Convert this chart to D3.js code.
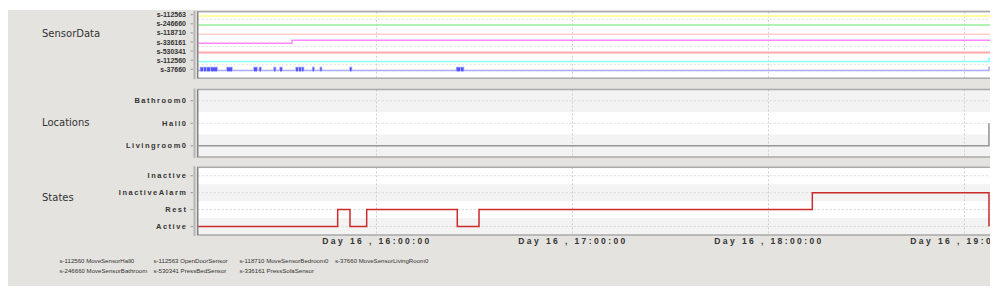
<!DOCTYPE html>
<html>
<head>
    <title>Sensor timeline</title>
    <script src="https://d3js.org/d3.v7.min.js"></script>
    <style>
        body { margin: 0; background: #fff; }
        svg { display: block; }
        .cat { font-family: "Liberation Sans", Arial, sans-serif; font-weight: bold; fill: #333; }
        .title { font-family: "DejaVu Sans", sans-serif; font-size: 10px; fill: #333; }
    </style>
</head>
<body>
    <div id="chart"></div>
    <script>
        // ---- data ----
        let sensorIds = ["s-112563", "s-246660", "s-118710", "s-336161", "s-530341", "s-112560", "s-37660"];
        let sensorColors = ["#ffff80", "#99ee99", "#ffcccc", "#ff88ff", "#ffaaaa", "#88ffff", "#aaaaff"];

        // each sensor: [time, value] changes
        let s112563 = [["15:05:25", 0], ["19:10:00", 0]];
        let s246660 = [["15:05:25", 0], ["19:10:00", 0]];
        let s118710 = [["15:05:25", 0], ["19:10:00", 0]];
        let s336161 = [["15:05:25", 0], ["15:34:17", 1], ["19:10:00", 1]];
        let s530341 = [["15:05:25", 0], ["19:10:00", 0]];
        let s112560 = [["15:05:25", 0], ["19:07:38", 1], ["19:10:00", 1]];
        let s37660 = [["15:05:25", 0],
            ["15:06:17", 1], ["15:07:02", 0], ["15:07:21", 1], ["15:07:58", 0],
            ["15:08:16", 1], ["15:09:11", 0], ["15:09:29", 1], ["15:11:20", 0],
            ["15:14:23", 1], ["15:15:55", 0], ["15:22:39", 1], ["15:23:34", 0],
            ["15:24:20", 1], ["15:24:48", 0], ["15:28:47", 1], ["15:29:14", 0],
            ["15:30:37", 1], ["15:31:13", 0], ["15:35:31", 1], ["15:36:07", 0],
            ["15:36:26", 1], ["15:37:02", 0], ["15:37:21", 1], ["15:37:48", 0],
            ["15:40:37", 1], ["15:41:01", 0], ["15:42:57", 1], ["15:43:19", 0],
            ["15:52:02", 1], ["15:52:30", 0], ["16:24:42", 1], ["16:25:43", 0],
            ["16:26:01", 1], ["16:26:47", 0], ["19:07:38", 1], ["19:10:00", 1]];
        let sensorSeries = [s112563, s246660, s118710, s336161, s530341, s112560, s37660];

        let locationCats = ["Bathroom0", "Hall0", "Livingroom0"];
        let locationData = [["15:05:25", "Livingroom0"], ["19:07:38", "Hall0"]];

        let stateCats = ["Inactive", "InactiveAlarm", "Rest", "Active"];
        let stateData = [["15:05:25", "Active"], ["15:48:16", "Rest"], ["15:52:02", "Active"],
            ["15:57:09", "Rest"], ["16:24:53", "Active"], ["16:31:32", "Rest"],
            ["18:13:34", "InactiveAlarm"], ["19:07:39", "Active"]];

        let hourTicks = ["16:00:00", "17:00:00", "18:00:00", "19:00:00"];
        let timeStart = "15:05:25", timeEnd = "19:10:00";

        let legendRows = [
            ["s-112560 MoveSensorHall0", "s-112563 OpenDoorSensor", "s-118710 MoveSensorBedroom0", "s-37660 MoveSensorLivingRoom0"],
            ["s-246660 MoveSensorBathroom", "s-530341 PressBedSensor", "s-336161 PressSofaSensor"]
        ];

        // ---- layout ----
        let width = 1000, height = 294;
        let parse = d3.timeParse("%H:%M:%S");
        let left = 197.7;

        let svg = d3.select("#chart").append("svg").attr("width", width).attr("height", height);
        svg.append("clipPath").attr("id", "clip").append("rect").attr("width", 990).attr("height", height);
        let root = svg.append("g").attr("clip-path", "url(#clip)");

        root.append("rect").attr("x", 8).attr("y", 10).attr("width", 990).attr("height", 276).attr("fill", "#e5e3df");

        let x = d3.scaleTime().domain([parse(timeStart), parse(timeEnd)]).range([left, left + 4.0764 * 196]);

        function panel(top, bottom, title, titleY) {
            let g = root.append("g");
            g.append("rect").attr("x", left).attr("y", top).attr("width", 820).attr("height", bottom - top)
                .attr("fill", "#fff");
            root.append("text").attr("class", "title").attr("x", 42).attr("y", titleY).text(title);
            return g;
        }

        function frame(g, top, bottom) {
            g.selectAll(".vgrid").data(hourTicks).enter().append("line")
                .attr("x1", d => x(parse(d)) + 0.5).attr("x2", d => x(parse(d)) + 0.5)
                .attr("y1", top).attr("y2", bottom)
                .attr("stroke", "#cfcfcf").attr("stroke-dasharray", "2,2");
        }

        function border(g, top, bottom) {
            g.append("rect").attr("x", left).attr("y", top).attr("width", 820).attr("height", bottom - top)
                .attr("fill", "none").attr("stroke", "#a9a9a9").attr("stroke-width", 1.5);
            g.append("line").attr("x1", left).attr("x2", left).attr("y1", top).attr("y2", bottom)
                .attr("stroke", "#777").attr("stroke-width", 1);
            g.append("line").attr("x1", 194.5).attr("x2", 194.5).attr("y1", top - 1).attr("y2", bottom + 1)
                .attr("stroke", "#b5b5b5").attr("stroke-width", 2);
        }

        function catAxis(g, cats, yc, size, spacing) {
            g.selectAll(".tk").data(cats).enter().append("line")
                .attr("x1", 190.5).attr("x2", 193).attr("y1", d => yc(d)).attr("y2", d => yc(d))
                .attr("stroke", "#999");
            g.selectAll(".lb").data(cats).enter().append("text")
                .attr("class", "cat").attr("text-anchor", "end")
                .attr("x", 186 + spacing).attr("y", d => yc(d) + size * 0.36)
                .style("font-size", size + "px").style("letter-spacing", spacing + "px")
                .text(d => d);
        }

        // ---- SensorData ----
        let sTop = 11.7, sBottom = 78.2;
        let gS = panel(sTop, sBottom, "SensorData", 36.5);
        let yS = d3.scalePoint().domain(sensorIds).range([14.7, 69.3]);
        let lane = d3.scaleLinear().domain([0, 1]).range([1.3, -1.8]);
        frame(gS, sTop, sBottom);
        [[0, 1], [3, 4], [5, 6]].forEach(p => {
            let yy = (yS(sensorIds[p[0]]) + yS(sensorIds[p[1]])) / 2;
            gS.append("line").attr("x1", left).attr("x2", 1000).attr("y1", yy).attr("y2", yy)
                .attr("stroke", "#dddddd").attr("stroke-dasharray", "2,2");
        });
        sensorSeries.forEach((ser, i) => {
            let id = sensorIds[i];
            let line = d3.line().curve(d3.curveStepAfter)
                .x(d => x(parse(d[0]))).y(d => yS(id) + lane(d[1]));
            gS.append("path").datum(ser).attr("d", line).attr("fill", "none")
                .attr("stroke", sensorColors[i]).attr("stroke-width", id === "s-530341" ? 2 : 1.5);
            // short pulses darker
            if (id === "s-37660") {
                let pulses = [];
                for (let k = 0; k < ser.length - 1; k++) {
                    if (ser[k][1] === 1 && k < ser.length - 2) pulses.push([ser[k][0], ser[k + 1][0]]);
                }
                gS.selectAll(".pulse").data(pulses).enter().append("rect")
                    .attr("x", d => x(parse(d[0])))
                    .attr("width", d => Math.max(1.2, x(parse(d[1])) - x(parse(d[0]))))
                    .attr("y", yS(id) + lane(1)).attr("height", lane(0) - lane(1) + 0.8)
                    .attr("fill", "#5555ff");
            }
        });
        border(gS, sTop, sBottom);
        catAxis(gS, sensorIds, yS, 7, 0);

        // ---- Locations ----
        let lTop = 89.5, lBottom = 157;
        let gL = panel(lTop, lBottom, "Locations", 126);
        let yL = d3.scaleBand().domain(locationCats).range([lTop, lBottom]);
        let yLc = d => yL(d) + yL.bandwidth() / 2;
        gL.selectAll(".band").data(locationCats.filter((d, i) => i % 2 === 0)).enter().append("rect")
            .attr("x", left).attr("width", 820).attr("y", d => yL(d)).attr("height", yL.bandwidth())
            .attr("fill", "#f3f3f3");
        gL.selectAll(".hgrid").data(locationCats).enter().append("line")
            .attr("x1", left).attr("x2", 1000).attr("y1", d => yLc(d)).attr("y2", d => yLc(d))
            .attr("stroke", "#d8d8d8").attr("stroke-dasharray", "2,2");
        frame(gL, lTop, lBottom);
        gL.append("path").datum(locationData)
            .attr("d", d3.line().curve(d3.curveStepAfter).x(d => x(parse(d[0]))).y(d => yLc(d[1])))
            .attr("fill", "none").attr("stroke", "#999").attr("stroke-width", 1.6);
        border(gL, lTop, lBottom);
        catAxis(gL, locationCats, yLc, 7.5, 1.5);

        // ---- States ----
        let tTop = 167.3, tBottom = 235;
        let gT = panel(tTop, tBottom, "States", 200.5);
        let yT = d3.scaleBand().domain(stateCats).range([tTop, tBottom]);
        let yTc = d => yT(d) + yT.bandwidth() / 2;
        gT.selectAll(".band").data(stateCats.filter((d, i) => i % 2 === 1)).enter().append("rect")
            .attr("x", left).attr("width", 820).attr("y", d => yT(d)).attr("height", yT.bandwidth())
            .attr("fill", "#f3f3f3");
        gT.selectAll(".hgrid").data(stateCats).enter().append("line")
            .attr("x1", left).attr("x2", 1000).attr("y1", d => yTc(d)).attr("y2", d => yTc(d))
            .attr("stroke", "#d8d8d8").attr("stroke-dasharray", "2,2");
        frame(gT, tTop, tBottom);
        gT.append("path").datum(stateData)
            .attr("d", d3.line().curve(d3.curveStepAfter).x(d => x(parse(d[0]))).y(d => yTc(d[1])))
            .attr("fill", "none").attr("stroke", "#cc2b2b").attr("stroke-width", 1.5);
        border(gT, tTop, tBottom);
        catAxis(gT, stateCats, yTc, 7.5, 1.5);

        // x axis labels
        let fmt = d3.timeFormat("%H:%M:%S");
        root.selectAll(".xl").data(hourTicks).enter().append("text")
            .attr("class", "cat").attr("text-anchor", "middle")
            .attr("x", d => x(parse(d)) + 1).attr("y", 244)
            .style("font-size", "8.5px").style("letter-spacing", "2.4px")
            .text(d => "Day 16 , " + fmt(parse(d)));

        // legend
        let cols = [59.5, 153.5, 239.5, 335];
        legendRows.forEach((row, r) => {
            root.selectAll(".lg" + r).data(row).enter().append("text")
                .attr("x", (d, i) => cols[i]).attr("y", 263.3 + r * 10)
                .style("font-family", "'Liberation Sans', Arial, sans-serif")
                .style("font-size", "6.1px").attr("fill", "#333")
                .text(d => d);
        });
    </script>
</body>
</html>
